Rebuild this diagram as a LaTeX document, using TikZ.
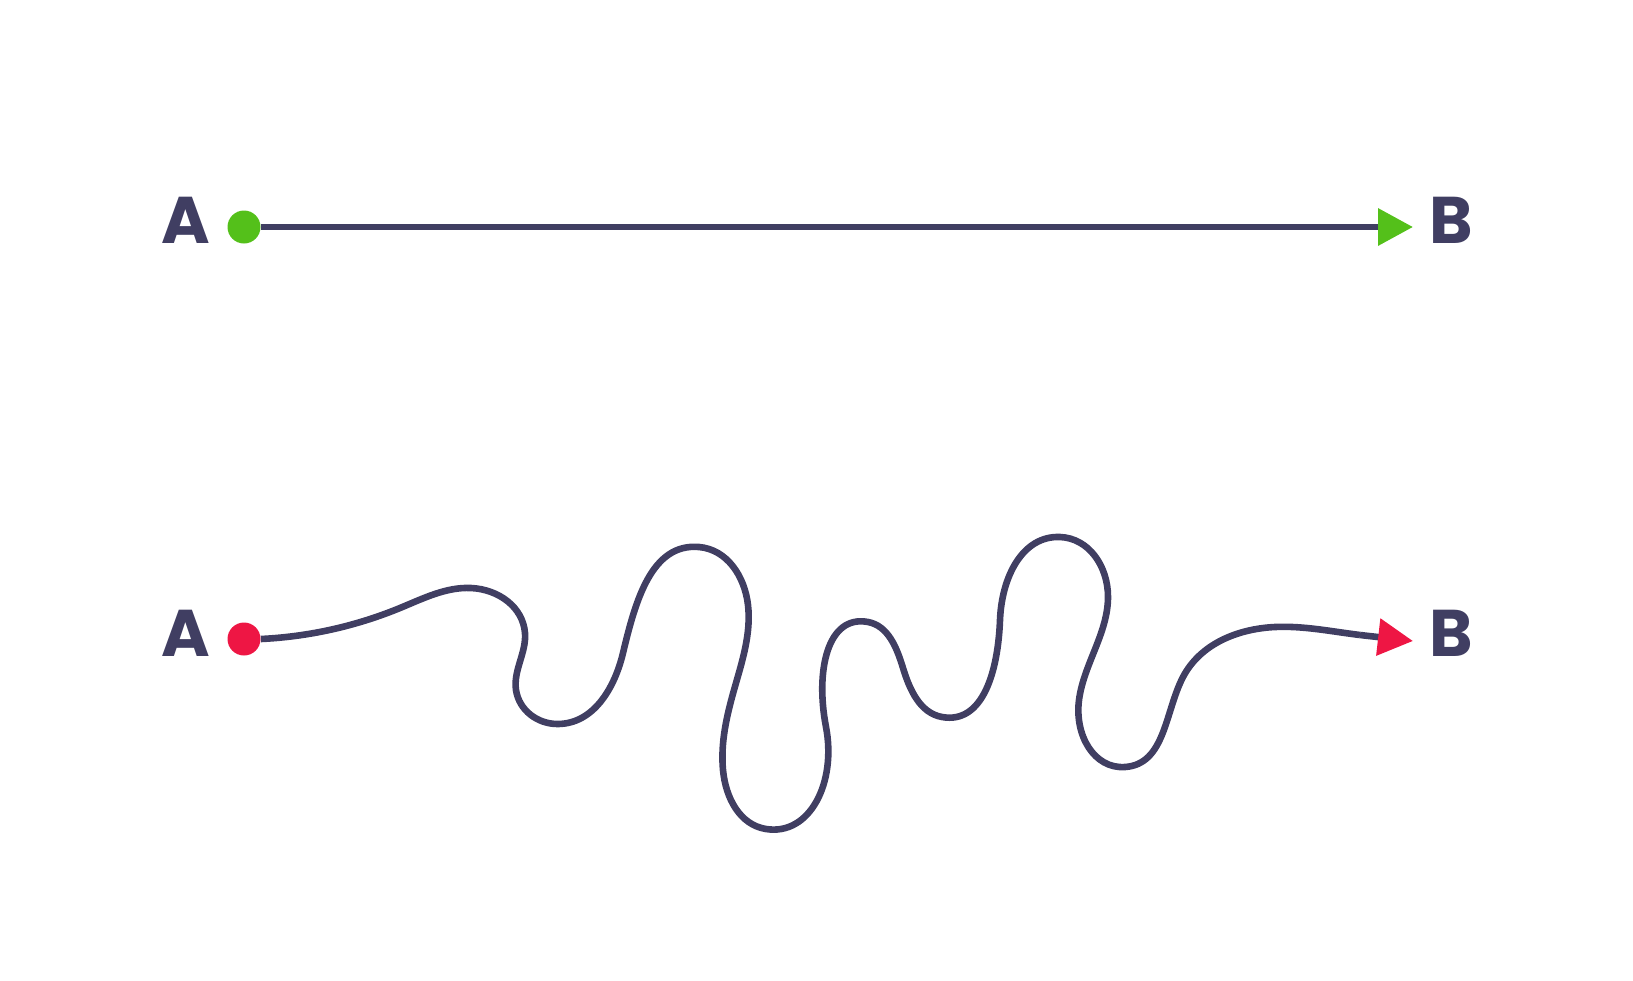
\documentclass[tikz,border=0pt]{standalone}
\usepackage{fontspec}
\usetikzlibrary{arrows.meta,positioning,hobby}
\newfontfamily\lblfont{Poppins}
\definecolor{ink}{RGB}{64,62,98}
\definecolor{okgreen}{RGB}{84,192,26}
\definecolor{badred}{RGB}{238,22,68}

\begin{document}
\begin{tikzpicture}[x=0.5pt, y=-0.5pt,
  lbl/.style={inner sep=0, text=ink, font=\lblfont\bfseries\fontsize{33}{33}\selectfont},
  dot/.style={circle, inner sep=0, minimum size=16.5pt},
  route/.style={draw=ink, line width=3.3pt},
  endtip/.style={-{Triangle[length=17.5pt, width=18pt, color=#1]}}]
\useasboundingbox (0,0) rectangle (1633,980);

% straight way
\node (a1) [lbl] at (186,220) {A};
\node (s1) [dot, fill=okgreen] at (244,227) {};
\node (b1) [lbl] at (1451,220) {B};
\coordinate (e1) at (1413,227);
\draw[route, endtip=okgreen] (s1) -- (e1);

% winding way
\node (a2) [lbl] at (186,633) {A};
\node (s2) [dot, fill=badred] at (244,639) {};
\node (b2) [lbl] at (1451,633) {B};
\coordinate (j2) at (1360,635);
\coordinate (e2) at (1413,641);
\draw[route, use Hobby shortcut] (s2.east) .. (400,608) .. (471,588)
  .. (525,633) .. (516,690) .. (558,724) .. (623,653) .. (699,547) .. (748,605)
  .. (734,690) .. (723,770) .. (766,829) .. (826,727) .. (868,622) .. (903,668)
  .. (942,717) .. (1000,620) .. (1060,537) .. (1108,597) .. (1079,700) .. (1125,767)
  .. (1183,677) .. (1275,627) .. ([in angle=173]j2);
\draw[route, endtip=badred] (j2) -- (e2);
\end{tikzpicture}
\end{document}
